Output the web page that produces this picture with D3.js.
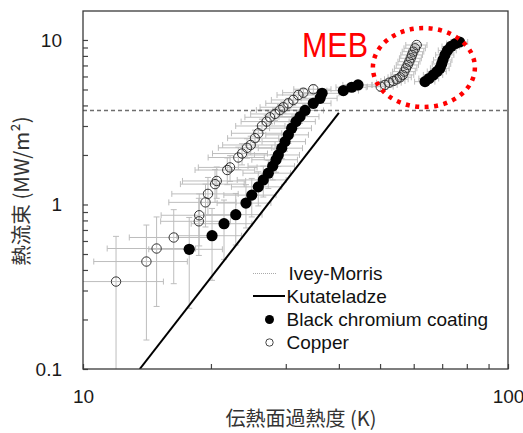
<!DOCTYPE html>
<html>
<head>
<meta charset="utf-8">
<script src="https://cdn.jsdelivr.net/npm/d3@7"></script>
<style>
    body { margin: 0; background: #fff; }
</style>
</head>
<body>
<div class="chart"></div>
<script>
// copper (open circles)
const copperDT = [11.96, 14.1, 14.9, 16.35, 18.73, 18.77, 19.42, 19.68, 20.45, 20.64, 21.85, 22.18, 23.2, 23.67, 24.32,
    24.81, 25.39, 25.85, 26.37, 27.05, 27.54, 28.3, 29.08, 29.6, 30.42, 31.25, 32.11, 32.99, 34.83,
    50.18, 51.36, 52.57, 53.72, 54.72, 55.71, 56.52, 57.02, 57.54, 58.08, 58.58, 59.03, 59.44, 59.87, 60.42, 60.98]
const copperQ = [0.34, 0.45, 0.54, 0.63, 0.79, 0.86, 1.03, 1.16, 1.33, 1.39, 1.62, 1.68, 1.93, 2.04, 2.21,
    2.30, 2.53, 2.71, 3.00, 3.19, 3.39, 3.55, 3.75, 3.90, 4.12, 4.32, 4.63, 4.78, 5.02,
    5.20, 5.33, 5.50, 5.63, 5.77, 5.93, 6.13, 6.42, 6.73, 7.05, 7.38, 7.74, 8.11, 8.49, 8.90, 9.32]

// black chromium coating (filled circles)
const blackDT = [17.78, 20.12, 21.47, 22.88, 24.18, 24.95, 25.85, 26.56, 27.29, 27.95, 28.46, 28.81, 29.35, 29.88,
    30.42, 30.98, 31.71, 32.41, 33.3, 34.83, 36.12, 36.52, 40.98, 42.88, 44.37,
    63.79, 65.19, 66.72, 68.07, 69.18, 69.82, 70.31, 71.08, 72.04, 73.43, 75.24, 76.89]
const blackQ = [0.534, 0.646, 0.764, 0.867, 1.02, 1.14, 1.28, 1.41, 1.55, 1.71, 1.87, 2.0, 2.2, 2.41,
    2.65, 2.91, 3.19, 3.42, 3.73, 4.12, 4.42, 4.74, 4.92, 5.16, 5.33,
    5.58, 5.83, 6.13, 6.43, 6.73, 7.15, 7.56, 8.11, 8.64, 9.13, 9.52, 9.72]

// measurement uncertainty (K, MW/m2)
const errDT = 3.5
const errQ = 0.3

// correlations
const iveyMorrisQ = 3.72
const kutateladzeDT = [13.6, 40]
const kutateladzeQ = [0.1, 3.6]

const xTicks = [10, 20, 30, 40, 50, 60, 70, 80, 90, 100]
const yTicks = [0.1, 0.2, 0.3, 0.4, 0.5, 0.6, 0.7, 0.8, 0.9, 1, 2, 3, 4, 5, 6, 7, 8, 9, 10]
const legendLabels = ['Ivey-Morris', 'Kutateladze', 'Black chromium coating', 'Copper']

// MEB annotation (data coords)
const mebLabel = 'MEB'
const mebLabelPos = [32.75, 7.92]
const mebCenter = [63.4, 6.8]

const width = 523,
    height = 433
const plotL = 83, plotR = 508, plotT = 11, plotB = 369

const x = d3.scaleLog().domain([10, 100]).range([plotL, plotR])
const y = d3.scaleLog().domain([0.1, 15]).range([plotB, plotT])

const svg = d3.select('.chart').append('svg')
    .attr('width', width)
    .attr('height', height)
    .style('font-family', '"Liberation Sans", Arial, sans-serif')

svg.append('clipPath').attr('id', 'plot')
    .append('rect')
    .attr('x', plotL).attr('y', plotT)
    .attr('width', plotR - plotL).attr('height', plotB - plotT)

const copper = copperDT.map((d, i) => ({ dt: d, q: copperQ[i] }))
const black = blackDT.map((d, i) => ({ dt: d, q: blackQ[i] }))

// error bars
const eb = svg.append('g').attr('clip-path', 'url(#plot)')
    .style('stroke', '#bdbdbd').style('stroke-width', 1).style('fill', 'none')
const cap = 3
function errorBars(data) {
    data.forEach(d => {
        const cx = x(d.dt), cy = y(d.q)
        const x0 = x(Math.max(d.dt - errDT, 1)), x1 = x(d.dt + errDT)
        const lo = d.q - errQ > 0 ? d.q - errQ : 0.01
        const y0 = y(lo), y1 = y(d.q + errQ)
        eb.append('line').attr('x1', x0).attr('x2', x1).attr('y1', cy).attr('y2', cy)
        eb.append('line').attr('x1', x0).attr('x2', x0).attr('y1', cy - cap).attr('y2', cy + cap)
        eb.append('line').attr('x1', x1).attr('x2', x1).attr('y1', cy - cap).attr('y2', cy + cap)
        eb.append('line').attr('x1', cx).attr('x2', cx).attr('y1', y0).attr('y2', y1)
        eb.append('line').attr('x1', cx - cap).attr('x2', cx + cap).attr('y1', y0).attr('y2', y0)
        eb.append('line').attr('x1', cx - cap).attr('x2', cx + cap).attr('y1', y1).attr('y2', y1)
    })
}
errorBars(copper)
errorBars(black)

// Ivey-Morris
svg.append('line')
    .attr('x1', plotL).attr('x2', plotR)
    .attr('y1', y(iveyMorrisQ)).attr('y2', y(iveyMorrisQ))
    .style('stroke', '#6e6e6e').style('stroke-width', 1.5)
    .style('stroke-dasharray', '4,3')

// Kutateladze
svg.append('path')
    .attr('clip-path', 'url(#plot)')
    .datum(kutateladzeDT.map((d, i) => [d, kutateladzeQ[i]]))
    .attr('d', d3.line().x(d => x(d[0])).y(d => y(d[1])))
    .style('stroke', '#000').style('stroke-width', 2).style('fill', 'none')

// markers
svg.append('g').selectAll('circle')
    .data(copper).enter().append('circle')
    .attr('cx', d => x(d.dt)).attr('cy', d => y(d.q))
    .attr('r', 4.7)
    .style('fill', 'none').style('stroke', '#333').style('stroke-width', 1)

svg.append('g').selectAll('circle')
    .data(black).enter().append('circle')
    .attr('cx', d => x(d.dt)).attr('cy', d => y(d.q))
    .attr('r', 5.6)
    .style('fill', '#000')

// axes (ticks inside)
const xAxis = d3.axisBottom(x)
    .tickValues(xTicks)
    .tickSizeInner(-5).tickSizeOuter(0).tickPadding(21)
    .tickFormat(d => (d === 10 || d === 100) ? d : '')
const yAxis = d3.axisLeft(y)
    .tickValues(yTicks)
    .tickSizeInner(-5).tickSizeOuter(0).tickPadding(21)
    .tickFormat(d => (d === 0.1 || d === 1 || d === 10) ? d : '')

const gx = svg.append('g').attr('transform', `translate(0,${plotB})`).call(xAxis)
const gy = svg.append('g').attr('transform', `translate(${plotL},0)`).call(yAxis)
gx.select('.domain').remove()
gy.select('.domain').remove()
svg.selectAll('.tick line').style('stroke', '#444').style('stroke-width', 1.2)
svg.selectAll('.tick text')
    .style('font-size', '19px').style('fill', '#1a1a1a')
    .style('font-family', '"Liberation Sans", Arial, sans-serif')

// frame
svg.append('rect')
    .attr('x', plotL).attr('y', plotT)
    .attr('width', plotR - plotL).attr('height', plotB - plotT)
    .style('fill', 'none').style('stroke', '#3a3a3a').style('stroke-width', 1.3)

// axis titles
svg.append('text')
    .attr('x', 301).attr('y', 426)
    .style('text-anchor', 'middle')
    .style('font-size', '20px').style('fill', '#333')
    .style('font-family', '"Noto Sans CJK JP", sans-serif')
    .text('伝熱面過熱度 (K)')

svg.append('text')
    .attr('transform', 'translate(29,191) rotate(-90)')
    .style('text-anchor', 'middle')
    .style('font-size', '20.5px').style('fill', '#333')
    .style('font-family', '"Noto Sans CJK JP", sans-serif')
    .text('熱流束 (MW/m²)')

// MEB annotation
svg.append('ellipse')
    .attr('cx', x(mebCenter[0])).attr('cy', y(mebCenter[1]))
    .attr('rx', 51).attr('ry', 39.5)
    .style('fill', 'none').style('stroke', '#ff0000')
    .style('stroke-width', 4.5).style('stroke-dasharray', '4,5.5')

svg.append('text')
    .attr('x', x(mebLabelPos[0])).attr('y', y(mebLabelPos[1]))
    .attr('textLength', 66).attr('lengthAdjust', 'spacingAndGlyphs')
    .style('font-size', '35px').style('fill', '#ff0000')
    .text(mebLabel)

// legend
const legend = svg.append('g').attr('class', 'legendTable')
const rowY = [273.5, 296, 319.5, 342.5]
legend.append('line')
    .attr('x1', 253).attr('x2', 277).attr('y1', rowY[0]).attr('y2', rowY[0])
    .style('stroke', '#aaa').style('stroke-width', 1).style('stroke-dasharray', '1,1')
legend.append('line')
    .attr('x1', 253).attr('x2', 285).attr('y1', rowY[1]).attr('y2', rowY[1])
    .style('stroke', '#000').style('stroke-width', 2)
legend.append('circle')
    .attr('cx', 269.5).attr('cy', rowY[2]).attr('r', 4.5)
    .style('fill', '#000')
legend.append('circle')
    .attr('cx', 269.5).attr('cy', rowY[3]).attr('r', 3.7)
    .style('fill', 'none').style('stroke', '#444').style('stroke-width', 1)
legend.selectAll('.legenda')
    .data(legendLabels).enter().append('text')
    .attr('class', 'legenda')
    .attr('x', (d, i) => i === 0 ? 288.5 : 286.5)
    .attr('y', (d, i) => rowY[i])
    .attr('dy', '0.35em')
    .style('font-size', '19px').style('fill', '#111')
    .text(d => d)
</script>
</body>
</html>
